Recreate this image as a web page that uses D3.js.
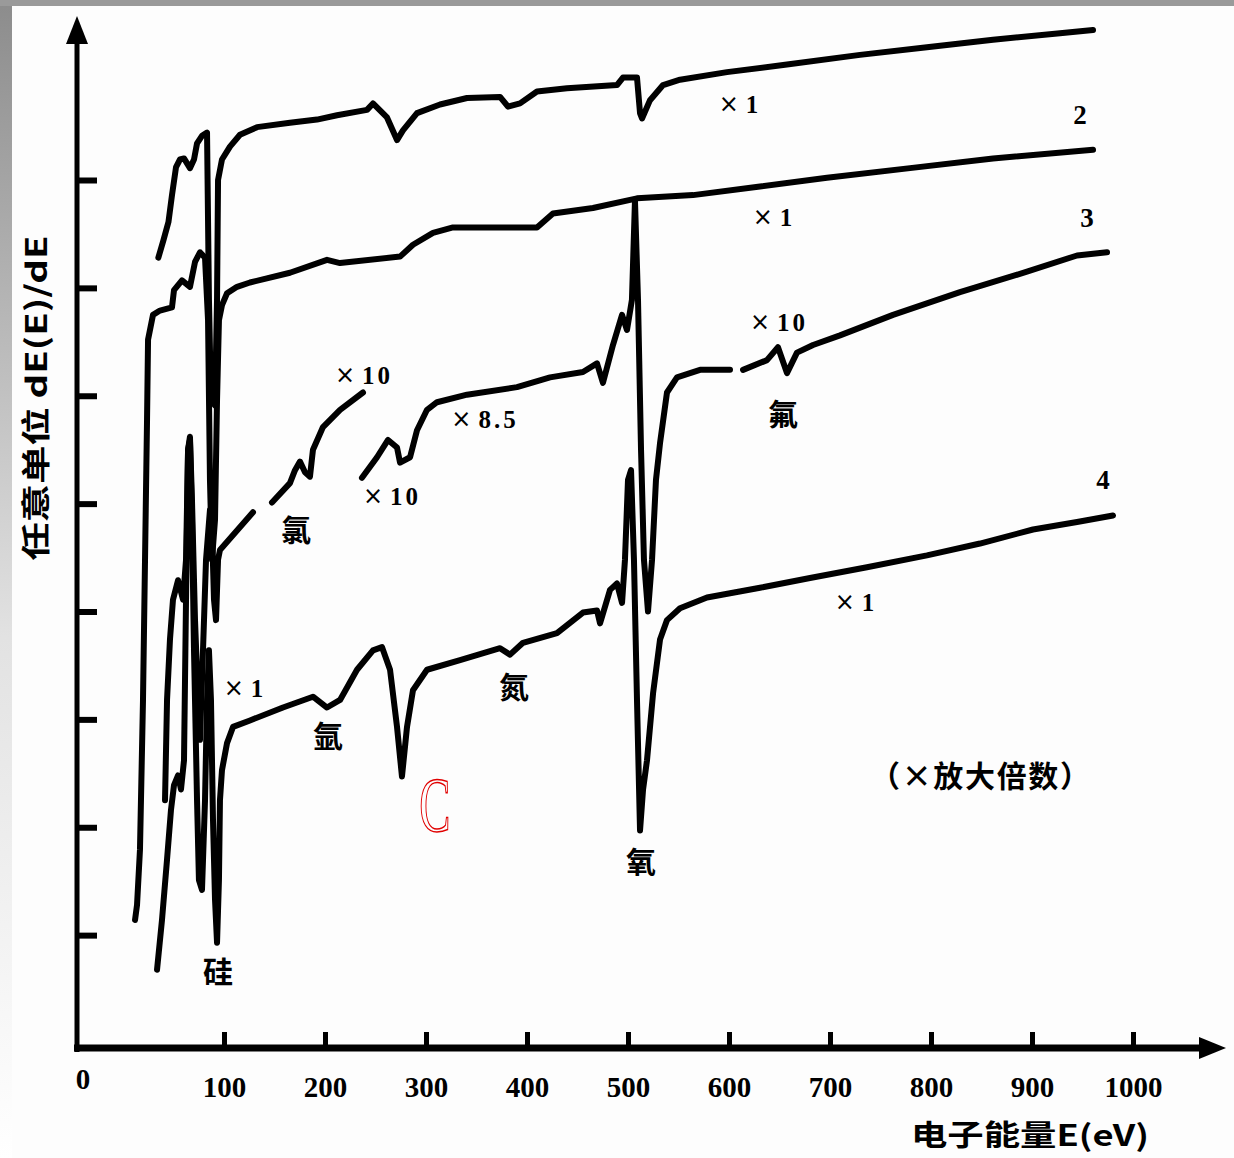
<!DOCTYPE html>
<html>
<head>
<meta charset="utf-8">
<script src="https://cdn.jsdelivr.net/npm/d3@7"></script>
<style>
  html, body { margin: 0; padding: 0; background: #fff; }
  svg { display: block; }
</style>
</head>
<body>
<div id="chart"></div>
<script>
// ---------------- DATA (energy in eV, intensity in arbitrary units) ----------------
const xTickValues = [100, 200, 300, 400, 500, 600, 700, 800, 900, 1000];
const xTickLabels = ["100", "200", "300", "400", "500", "600", "700", "800", "900", "1000"];
const yTickValues = [1, 2, 3, 4, 5, 6, 7, 8];
const originLabel = "0";
const xAxisTitle = "电子能量E(eV)";
const yAxisTitle = "任意单位 dE(E)/dE";

// curve 1 (×1)
const curve1 = [
  [35, 7.28], [40, 7.44], [45, 7.61], [48.5, 7.86], [52.5, 8.12], [56.4, 8.19], [60.4, 8.20],
  [66.3, 8.11], [70.3, 8.19], [73.3, 8.34], [78.2, 8.41], [83.2, 8.44], [85.1, 6.89], [87.1, 5.96],
  [91.1, 5.91], [93.1, 6.89], [94.1, 8.00], [98.0, 8.19], [105.9, 8.31], [115.8, 8.42], [132.7, 8.49],
  [165.3, 8.53], [192.1, 8.56], [211.9, 8.60], [241.6, 8.65], [247.5, 8.71], [261.4, 8.58], [271.3, 8.37],
  [277.2, 8.46], [291.1, 8.62], [313.9, 8.70], [340.6, 8.76], [373.3, 8.77], [381.2, 8.68], [393.1, 8.71],
  [409.9, 8.82], [439.6, 8.85], [489.1, 8.88], [495.0, 8.95], [508.9, 8.95], [511.9, 8.62], [513.9, 8.57],
  [521.8, 8.74], [534.7, 8.88], [551.5, 8.93], [598.0, 9.00], [657.4, 9.07], [729.7, 9.16], [796.0, 9.23],
  [861.4, 9.30], [927.7, 9.36], [960.4, 9.39]
];

// curve 2 (×1)
const curve2 = [
  [11.9, 1.14], [13.9, 1.28], [16.8, 1.79], [19.8, 3.18], [21.8, 4.48], [23.8, 5.78], [24.8, 6.52],
  [29.7, 6.75], [36.6, 6.79], [48.5, 6.82], [50.5, 6.98], [58.4, 7.07], [66.3, 7.01], [71.3, 7.24],
  [76.2, 7.33], [81.2, 7.28], [84.2, 6.70], [86.1, 5.22], [88.1, 4.48], [91.1, 4.85], [93.1, 5.96],
  [95.0, 6.70], [98.0, 6.84], [103.0, 6.95], [112.9, 7.01], [125.7, 7.05], [165.3, 7.14], [202.0, 7.26],
  [214.9, 7.23], [274.3, 7.29], [287.1, 7.40], [306.9, 7.51], [326.7, 7.56], [409.9, 7.56], [425.7, 7.69],
  [465.3, 7.74], [508.9, 7.83], [564.4, 7.86], [630.7, 7.94], [697.0, 8.02], [779.2, 8.11], [861.4, 8.20],
  [960.4, 8.28]
];

// curve 3 (×10 / ×8.5 / ×10 segments; null = break in the trace)
const curve3 = [
  [41.6, 2.25], [43.6, 3.18], [46.5, 3.74], [49.5, 4.11], [54.5, 4.29], [59.4, 4.11], [62.4, 4.48],
  [64.4, 5.50], [66.3, 5.62], [68.3, 5.03], [71.3, 3.92], [74.3, 3.18], [76.2, 2.81], [79.2, 3.64],
  [82.2, 4.48], [86.1, 4.94], [88.1, 4.76], [90.1, 4.11], [92.1, 3.92], [94.1, 4.48], [96.0, 4.57],
  [128.7, 4.92],
  [138, null],
  [147.5, 5.01], [165.3, 5.19], [170.3, 5.31], [175.2, 5.39], [180.2, 5.29], [185.1, 5.25], [188.1, 5.50],
  [198.0, 5.71], [214.9, 5.87], [237.6, 6.03],
  [237, null],
  [236.6, 5.24], [251.5, 5.43], [262.4, 5.59], [271.3, 5.52], [274.3, 5.38], [284.2, 5.43], [291.1, 5.68],
  [301.0, 5.87], [310.9, 5.94], [340.6, 6.01], [390.1, 6.08], [422.8, 6.17], [455.4, 6.22], [469.3, 6.30],
  [475.2, 6.12], [485.1, 6.47], [494.1, 6.75], [499.0, 6.61], [503.9, 6.89], [506.9, 7.81], [509.9, 6.89],
  [512.9, 5.50], [515.8, 4.48], [519.8, 4.00], [523.8, 4.48], [527.7, 5.22], [531.7, 5.56], [538.6, 6.03],
  [548.5, 6.17], [571.3, 6.24], [601.0, 6.24],
  [607, null],
  [613.9, 6.24], [637.6, 6.33], [648.5, 6.45], [657.4, 6.21], [667.3, 6.40], [683.2, 6.47], [709.9, 6.56],
  [762.4, 6.75], [828.7, 6.96], [895.0, 7.15], [944.6, 7.30], [974.3, 7.33]
];

// curve 4 (×1)
const curve4 = [
  [33.7, 0.68], [38.6, 1.14], [43.6, 1.70], [47.5, 2.16], [50.5, 2.39], [54.5, 2.48], [57.4, 2.35],
  [60.4, 2.62], [62.4, 4.11], [64.4, 5.50], [66.3, 5.59], [68.3, 4.85], [70.3, 3.64], [73.3, 2.25],
  [75.2, 1.51], [78.2, 1.42], [81.2, 2.25], [83.2, 3.18], [85.1, 3.64], [87.1, 3.18], [89.1, 2.07],
  [91.1, 1.33], [93.1, 0.93], [95.0, 1.51], [96.0, 2.25], [98.0, 2.53], [103.0, 2.78], [108.9, 2.93],
  [125.7, 2.99], [158.4, 3.11], [188.1, 3.21], [202.0, 3.11], [214.9, 3.18], [231.7, 3.46], [247.5, 3.64],
  [256.4, 3.67], [264.4, 3.46], [271.3, 2.93], [276.2, 2.47], [281.2, 2.93], [287.1, 3.27], [301.0, 3.46],
  [333.7, 3.55], [373.3, 3.66], [383.2, 3.60], [396.0, 3.71], [429.7, 3.80], [455.4, 3.99], [469.3, 4.01],
  [472.3, 3.89], [482.2, 4.20], [489.1, 4.26], [494.1, 4.08], [497.0, 4.48], [500.0, 5.22], [503.0, 5.31],
  [505.9, 4.48], [508.9, 3.18], [511.9, 1.97], [514.9, 2.35], [518.8, 2.62], [524.8, 3.24], [531.7, 3.74],
  [538.6, 3.92], [551.5, 4.03], [578.2, 4.13], [630.7, 4.22], [680.2, 4.31], [736.6, 4.41], [796.0, 4.52],
  [848.5, 4.63], [901.0, 4.76], [944.6, 4.83], [980.2, 4.89]
];

const curves = [curve1, curve2, curve3, curve4];

// annotation texts, anchored in data coordinates (eV, a.u.)
const annoText = ["×1", "2", "×1", "3", "×10", "氟", "×10", "×8.5", "×10", "氯", "4", "×1", "×1", "氩", "氮", "氧", "硅", "（×放大倍数）", "C"];
const annoE    = [610.9, 947.5, 644.6, 954.5, 649.5, 653.5, 238.6, 358.4, 266.3, 171.3, 970.3, 725.7, 120.8, 203.0, 387.1, 512.9, 94.1, 848.5, 308.9];
const annoV    = [8.70, 8.60, 7.66, 7.65, 6.68, 5.85, 6.19, 5.78, 5.07, 4.77, 5.22, 4.09, 3.29, 2.86, 3.32, 1.70, 0.68, 2.49, 2.21];
const annoKind = ["mult", "num", "mult", "num", "mult", "elem", "mult", "mult", "mult", "elem", "num", "mult", "mult", "elem", "elem", "elem", "elem", "note", "red"];

// ---------------- DRAWING ----------------
const W = 1234, H = 1158;
const svg = d3.select("#chart").append("svg").attr("width", W).attr("height", H);

const defs = svg.append("defs");
const lg = defs.append("linearGradient").attr("id", "leftEdge").attr("x1", 0).attr("y1", 0).attr("x2", 0).attr("y2", 1);
lg.append("stop").attr("offset", "0%").attr("stop-color", "#8c8c8c");
lg.append("stop").attr("offset", "55%").attr("stop-color", "#e2e2e2");
lg.append("stop").attr("offset", "100%").attr("stop-color", "#ffffff");

svg.append("rect").attr("width", W).attr("height", H).attr("fill", "#fdfdfd");
svg.append("rect").attr("x", 0).attr("y", 0).attr("width", 12).attr("height", H).attr("fill", "url(#leftEdge)");
svg.append("rect").attr("x", 0).attr("y", 0).attr("width", W).attr("height", 6).attr("fill", "#9a9a9a");

const x = d3.scaleLinear().domain([0, 1000]).range([123, 1133]);
const y = d3.scaleLinear().domain([0, 8]).range([1043, 180]);

const axisX0 = 77;               // vertical axis position
const axisY0 = y(0) + 5;         // horizontal axis position

const latin = "'Liberation Serif', 'DejaVu Serif', serif";
const cjk = "'Noto Sans CJK SC', 'Noto Sans', sans-serif";

// axes lines with arrows
const g = svg.append("g");
g.append("line").attr("x1", axisX0).attr("y1", 40).attr("x2", axisX0).attr("y2", axisY0 + 4)
  .attr("stroke", "#000").attr("stroke-width", 5);
g.append("path").attr("d", `M${axisX0},16 L${axisX0 - 11},44 L${axisX0 + 11},44 Z`).attr("fill", "#000");
g.append("line").attr("x1", axisX0 - 3).attr("y1", axisY0).attr("x2", 1205).attr("y2", axisY0)
  .attr("stroke", "#000").attr("stroke-width", 7);
g.append("path").attr("d", `M1226,${axisY0} L1199,${axisY0 - 11} L1199,${axisY0 + 11} Z`).attr("fill", "#000");

// x axis ticks + labels
const xAxis = d3.axisBottom(x).tickValues(xTickValues)
  .tickFormat((d, i) => xTickLabels[i]).tickSizeInner(-16).tickSizeOuter(0).tickPadding(28);
const gx = svg.append("g").attr("transform", `translate(0,${axisY0})`).call(xAxis);
gx.select(".domain").remove();
gx.selectAll(".tick line").attr("stroke", "#000").attr("stroke-width", 5);
gx.selectAll(".tick text").attr("font-family", latin).attr("font-weight", "bold")
  .attr("font-size", 29).attr("fill", "#000");

svg.append("text").attr("x", axisX0 + 6).attr("y", axisY0 + 41).attr("text-anchor", "middle")
  .attr("font-family", latin).attr("font-weight", "bold").attr("font-size", 29).text(originLabel);

// y axis ticks (no labels)
const yAxis = d3.axisRight(y).tickValues(yTickValues).tickFormat("").tickSizeInner(20).tickSizeOuter(0);
const gy = svg.append("g").attr("transform", `translate(${axisX0},0)`).call(yAxis);
gy.select(".domain").remove();
gy.selectAll(".tick line").attr("stroke", "#000").attr("stroke-width", 6);

// axis titles
svg.append("text").attr("x", 1030).attr("y", 1146).attr("text-anchor", "middle")
  .attr("font-family", cjk).attr("font-weight", "bold").attr("font-size", 29)
  .attr("textLength", 238).attr("lengthAdjust", "spacingAndGlyphs").text(xAxisTitle);
svg.append("text").attr("transform", "translate(47,398) rotate(-90)").attr("text-anchor", "middle")
  .attr("font-family", cjk).attr("font-weight", "bold").attr("font-size", 29)
  .attr("textLength", 325).attr("lengthAdjust", "spacingAndGlyphs").text(yAxisTitle);

// curves
const line = d3.line().defined(d => d[1] !== null).x(d => x(d[0])).y(d => y(d[1]));
svg.append("g").selectAll("path").data(curves).join("path")
  .attr("d", line).attr("fill", "none").attr("stroke", "#000").attr("stroke-width", 6)
  .attr("stroke-linejoin", "round").attr("stroke-linecap", "round");

// annotations
const styles = {
  mult: { family: latin, weight: "bold", size: 25, fill: "#000", spacing: 3 },
  num:  { family: latin, weight: "bold", size: 27, fill: "#000", spacing: 0 },
  elem: { family: cjk, weight: "bold", size: 30, fill: "#000", spacing: 0 },
  note: { family: cjk, weight: "bold", size: 30, fill: "#000", spacing: 0 },
  red:  { family: latin, weight: "normal", size: 78, fill: "none", spacing: 0 }
};
const anno = annoText.map((t, i) => ({ t, E: annoE[i], v: annoV[i], k: annoKind[i] }));
const at = svg.append("g").selectAll("text").data(anno).join("text")
  .attr("x", d => x(d.E)).attr("y", d => y(d.v))
  .attr("text-anchor", "middle").attr("dominant-baseline", "central")
  .attr("font-family", d => styles[d.k].family).attr("font-weight", d => styles[d.k].weight)
  .attr("font-size", d => styles[d.k].size).attr("fill", d => styles[d.k].fill)
  .attr("letter-spacing", d => styles[d.k].spacing)
  .attr("stroke", d => d.k === "red" ? "#e00000" : null)
  .attr("stroke-width", d => d.k === "red" ? 1.5 : null)
  .attr("textLength", d => d.k === "note" ? 220 : null)
  .attr("transform", d => d.k === "red" ? `translate(${x(d.E)},${y(d.v)}) scale(0.6,1) translate(${-x(d.E)},${-y(d.v)})` : null);

// plain labels
at.filter(d => d.k !== "mult").text(d => d.t);
// multiplier labels: a larger light "×" followed by the bold factor
at.filter(d => d.k === "mult").each(function (d) {
  const t = d3.select(this);
  t.append("tspan").attr("font-family", "'DejaVu Sans', sans-serif").attr("font-weight", "normal")
    .attr("font-size", 24).text(d.t.slice(0, 1));
  t.append("tspan").attr("dx", 4).text(d.t.slice(1));
});
</script>
</body>
</html>
